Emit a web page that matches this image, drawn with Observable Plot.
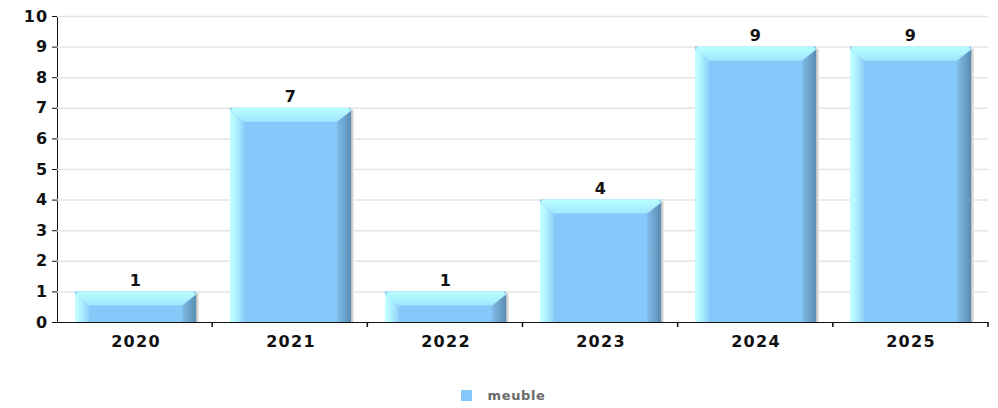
<!DOCTYPE html>
<html>
<head>
<meta charset="utf-8">
<script src="https://cdn.jsdelivr.net/npm/d3@7"></script>
<script src="https://cdn.jsdelivr.net/npm/@observablehq/plot@0.6"></script>
<style>
  html, body { margin: 0; padding: 0; background: #fff; }
  #chart { width: 998px; }
  #legend { height: 33px; display: flex; align-items: center; justify-content: center; padding-left: 8px; box-sizing: border-box; padding-top: 8px;
    font-family: "DejaVu Sans", sans-serif; font-weight: bold; font-size: 13px; color: #6a6a6a; letter-spacing: 0.6px; }
  #legend .sw { width: 11px; height: 11px; background: #87c8fa; margin-right: 16px; }
</style>
</head>
<body>
<div id="chart"></div>
<div id="legend"><span class="sw"></span><span>meuble</span></div>
<script>
const years = ["2020", "2021", "2022", "2023", "2024", "2025"];
const values = [1, 7, 1, 4, 9, 9];
const seriesName = "meuble";
const yTicks = [0, 1, 2, 3, 4, 5, 6, 7, 8, 9, 10];

const data = years.map((y, i) => ({year: y, value: values[i]}));

const plot = Plot.plot({
  width: 998,
  height: 375,
  marginTop: 16,
  marginBottom: 53,
  marginLeft: 57,
  marginRight: 10,
  style: {fontFamily: "DejaVu Sans, sans-serif", fontWeight: "bold", fontSize: "16px", color: "#111", letterSpacing: "1.3px", background: "#fff"},
  x: {domain: years, paddingInner: 0.22, paddingOuter: 0.11, label: null, tickSize: 0, tickPadding: 13, line: true},
  y: {domain: [0, 10], ticks: yTicks, tickFormat: d => String(d), label: null, tickSize: 5, tickPadding: 4, line: true},
  marks: [
    Plot.ruleY(yTicks.filter(t => t > 0), {stroke: "#e4e4e4", strokeWidth: 1.5}),
    Plot.barY(data, {x: "year", y: "value", fill: "#87c8fa"}),
    Plot.text(data, {x: "year", y: "value", text: d => String(d.value), dy: -11, fill: "#111", fontSize: 16, fontWeight: "bold"})
  ]
});

// 3D bevel decoration derived from the bars Plot drew
const svgNS = "http://www.w3.org/2000/svg";
const svg = d3.select(plot);
const defs = svg.insert("defs", ":first-child");
function grad(id, x2, y2, stops) {
  const g = defs.append("linearGradient").attr("id", id).attr("x1", 0).attr("y1", 0).attr("x2", x2).attr("y2", y2);
  stops.forEach(([o, c]) => g.append("stop").attr("offset", o).attr("stop-color", c));
}
grad("gLeft", 1, 0, [[0, "#c6ffff"], [0.35, "#b4f6fe"], [1, "#8fd0fa"]]);
grad("gTop", 0, 1, [[0, "#b8ffff"], [1, "#a2e6fc"]]);
grad("gRight", 1, 0, [[0, "#80bde8"], [1, "#5a8db3"]]);
grad("gShadow", 1, 0, [[0, "#b8b8b8"], [1, "#f0f0f0"]]);

const barGroup = svg.select('g[aria-label="bar"]');
barGroup.selectAll("rect").each(function () {
  const r = d3.select(this);
  const x = +r.attr("x"), y = +r.attr("y"), w = +r.attr("width"), h = +r.attr("height");
  const b = Math.min(14, h / 2, w / 2);
  const parent = this.parentNode;
  const add = (pts, fill) => {
    const p = document.createElementNS(svgNS, "polygon");
    p.setAttribute("points", pts.map(q => q.join(",")).join(" "));
    p.setAttribute("fill", fill);
    parent.appendChild(p);
  };
  // shadow on the right
  const s = document.createElementNS(svgNS, "rect");
  s.setAttribute("x", x + w); s.setAttribute("y", y + 2); s.setAttribute("width", 3); s.setAttribute("height", h - 2);
  s.setAttribute("fill", "url(#gShadow)");
  parent.insertBefore(s, parent.firstChild);
  add([[x, y + 3], [x + b, y + b], [x + b, y + h], [x, y + h]], "url(#gLeft)");
  add([[x + w, y + 3], [x + w, y + h], [x + w - b, y + h], [x + w - b, y + b]], "url(#gRight)");
  add([[x + 3, y], [x + w - 3, y], [x + w, y + 3], [x + w - b, y + b], [x + b, y + b], [x, y + 3]], "url(#gTop)");
});

// tick marks at category boundaries on the x axis, using Plot's own x/y scales
const xs = plot.scale("x"), ys = plot.scale("y");
const band = d3.scaleBand(xs.domain, xs.range).paddingInner(xs.paddingInner).paddingOuter(xs.paddingOuter);
const yLin = d3.scaleLinear(ys.domain, ys.range);
const step = band.step();
const y0 = yLin(0);
const bounds = years.map(d => band(d) - step * band.paddingInner() / 2).slice(1);
bounds.push(band(years[years.length - 1]) + band.bandwidth() + step * band.paddingInner() / 2);
const tg = svg.append("g").attr("stroke", "#111").attr("stroke-width", 1.5);
bounds.forEach(bx => tg.append("line").attr("x1", bx).attr("x2", bx).attr("y1", y0).attr("y2", y0 + 5));

// make axis lines dark and a bit thicker
svg.selectAll('g[aria-label="x-axis"] path, g[aria-label="y-axis"] path').attr("stroke", "#111").attr("stroke-width", 1.5);
svg.selectAll('g[aria-label="y-axis"] line, g[aria-label="y-axis"] .tick line').attr("stroke", "#111");

document.getElementById("chart").appendChild(plot);
</script>
</body>
</html>
